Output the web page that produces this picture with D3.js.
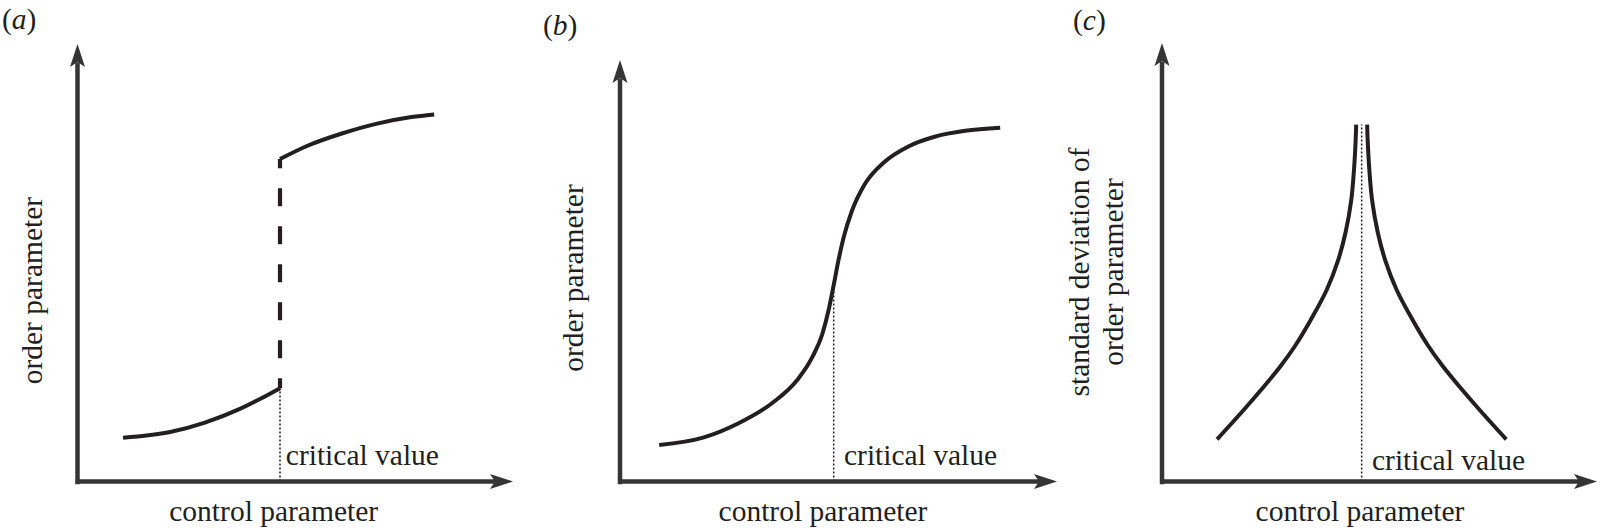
<!DOCTYPE html>
<html>
<head>
<meta charset="utf-8">
<script src="https://cdn.jsdelivr.net/npm/d3@7"></script>
<style>
  html, body { margin: 0; padding: 0; background: #fff; }
  svg { display: block; }
  text { font-family: "Liberation Serif", "Times New Roman", serif; fill: #231f20; }
</style>
</head>
<body>
<svg id="chart" width="1600" height="532"></svg>
<script>
// ---------------- data (all in abstract units 0..100 per axis) ----------------
const panelLetters = ["a", "b", "c"];
const xAxisTitle = "control parameter";
const yAxisTitles = [["order parameter"], ["order parameter"], ["standard deviation of", "order parameter"]];
const criticalLabel = "critical value";

// panel (a): first-order transition
const aLowX  = [10.45, 21.3, 29.25, 37.15, 41.9, 46.5];
const aLowY  = [10.0, 11.3, 13.45, 16.53, 18.86, 21.34];
const aHighX = [46.5, 52.95, 60.9, 68.8, 76.7, 81.9];
const aHighY = [73.7, 76.8, 79.6, 81.8, 83.3, 83.9];
const aCritical = 46.5;

// panel (b): continuous transition (sigmoid)
const bX = [8.97, 19.0, 26.9, 34.7, 40.5, 44.0, 46.3, 47.7, 48.9, 50.0, 51.2, 53.0, 56.0, 60.5, 66.0, 72.0, 79.0, 87.0];
const bY = [8.65, 10.4, 13.7, 18.5, 24.0, 29.5, 35.0, 40.5, 46.6, 52.5, 58.0, 64.0, 70.5, 75.8, 79.5, 81.8, 83.2, 83.9];
const bCritical = 48.9;
const bCriticalY = 46.6;

// panel (c): divergence of standard deviation near the critical value
const cLeftX  = [12.66, 18.77, 23.14, 27.28, 30.73, 34.18, 37.85, 40.5, 42.22, 43.51, 44.18, 44.52, 44.64];
const cLeftY  = [9.62, 16.31, 21.32, 26.34, 31.13, 36.83, 43.67, 50.5, 56.9, 64.2, 71.72, 77.88, 81.39];
const cRightX = [47.16, 47.28, 47.62, 48.29, 49.58, 51.3, 53.95, 57.62, 61.07, 64.52, 68.66, 73.03, 79.14];
const cRightY = [81.39, 77.88, 71.72, 64.2, 56.9, 50.5, 43.67, 36.83, 31.13, 26.34, 21.32, 16.31, 9.62];
const cCritical = 45.9;
const cCriticalY = 81.39;

// ---------------- layout ----------------
const layout = [
  { ox: 77.5,  oy: 481.5, xTip: 513,  yTip: 44, letterX: 2,    letterY: 28.7,
    titleX: 273.7, titleY: 521, critX: 285.8, critY: 464.5, yTitleX: [41.5], yTitleY: 290.6 },
  { ox: 620,   oy: 481.5, xTip: 1057, yTip: 60, letterX: 543,  letterY: 35.4,
    titleX: 823,   titleY: 521, critX: 844,   critY: 464.5, yTitleX: [583], yTitleY: 278 },
  { ox: 1162,  oy: 481.5, xTip: 1597, yTip: 43, letterX: 1073, letterY: 29.7,
    titleX: 1360,  titleY: 521, critX: 1372,  critY: 470,   yTitleX: [1088.7, 1123.4], yTitleY: 272 }
];

const AXIS_COLOR = "#353535";
const CURVE_COLOR = "#231f20";
const FONT = 29.5;
const ARROW_LEN = 23, ARROW_HALF = 7.5, ARROW_NOTCH = 5;

const svg = d3.select("#chart");

function makeScales(L) {
  const x = d3.scaleLinear().domain([0, 100]).range([L.ox, L.xTip]);
  const y = d3.scaleLinear().domain([0, 100]).range([L.oy, L.yTip]);
  return { x, y };
}

function drawAxes(g, L) {
  const xLine = d3.scaleLinear().domain([0, 1]).range([L.ox - 2.25, L.xTip - (ARROW_LEN - ARROW_NOTCH)]);
  const yLine = d3.scaleLinear().domain([0, 1]).range([L.oy + 2.25, L.yTip + (ARROW_LEN - ARROW_NOTCH)]);
  const xa = g.append("g").attr("transform", `translate(0,${L.oy - 0.5})`)
    .call(d3.axisBottom(xLine).tickValues([]).tickSizeOuter(0));
  const ya = g.append("g").attr("transform", `translate(${L.ox - 0.5},0)`)
    .call(d3.axisLeft(yLine).tickValues([]).tickSizeOuter(0));
  [xa, ya].forEach(a => a.select(".domain")
    .attr("stroke", AXIS_COLOR).attr("stroke-width", 4.5).attr("fill", "none"));

  const xt = L.xTip, yt = L.yTip;
  g.append("path")
    .attr("d", `M${xt},${L.oy} L${xt - ARROW_LEN},${L.oy - ARROW_HALF} L${xt - ARROW_LEN + ARROW_NOTCH},${L.oy} L${xt - ARROW_LEN},${L.oy + ARROW_HALF} Z`)
    .attr("fill", AXIS_COLOR);
  g.append("path")
    .attr("d", `M${L.ox},${yt} L${L.ox - ARROW_HALF},${yt + ARROW_LEN} L${L.ox},${yt + ARROW_LEN - ARROW_NOTCH} L${L.ox + ARROW_HALF},${yt + ARROW_LEN} Z`)
    .attr("fill", AXIS_COLOR);
}

function drawTexts(g, L, i) {
  const t = g.append("text").attr("x", L.letterX).attr("y", L.letterY).attr("font-size", FONT);
  t.append("tspan").text("(");
  t.append("tspan").attr("font-style", "italic").text(panelLetters[i]);
  t.append("tspan").text(")");

  g.append("text").attr("x", L.titleX).attr("y", L.titleY)
    .attr("text-anchor", "middle").attr("font-size", FONT).text(xAxisTitle);

  g.append("text").attr("x", L.critX).attr("y", L.critY)
    .attr("font-size", FONT).text(criticalLabel);

  yAxisTitles[i].forEach((s, k) => {
    g.append("text")
      .attr("transform", `translate(${L.yTitleX[k]},${L.yTitleY}) rotate(-90)`)
      .attr("text-anchor", "middle").attr("font-size", FONT).text(s);
  });
}

function curvePath(xs, ys, sc, curve) {
  const pts = xs.map((v, i) => [v, ys[i]]);
  return d3.line().x(d => sc.x(d[0])).y(d => sc.y(d[1])).curve(curve || d3.curveMonotoneX)(pts);
}

function dotted(g, sc, xv, y0, y1) {
  g.append("line")
    .attr("x1", sc.x(xv)).attr("x2", sc.x(xv))
    .attr("y1", sc.y(y0)).attr("y2", sc.y(y1))
    .attr("stroke", CURVE_COLOR).attr("stroke-width", 1.5).attr("stroke-dasharray", "2,2");
}

function solid(g, d) {
  g.append("path").attr("d", d).attr("fill", "none")
    .attr("stroke", CURVE_COLOR).attr("stroke-width", 4).attr("stroke-linejoin", "miter");
}

layout.forEach((L, i) => {
  const g = svg.append("g");
  const sc = makeScales(L);
  drawTexts(g, L, i);

  if (i === 0) {
    dotted(g, sc, aCritical, 0, aLowY[aLowY.length - 1]);
    solid(g, curvePath(aLowX, aLowY, sc));
    solid(g, curvePath(aHighX, aHighY, sc));
    g.append("line")
      .attr("x1", sc.x(aCritical)).attr("x2", sc.x(aCritical))
      .attr("y1", sc.y(aLowY[aLowY.length - 1])).attr("y2", sc.y(aHighY[0]))
      .attr("stroke", CURVE_COLOR).attr("stroke-width", 4.2)
      .attr("stroke-dasharray", "18,20").attr("stroke-dashoffset", 8);
  } else if (i === 1) {
    dotted(g, sc, bCritical, 0, bCriticalY);
    solid(g, curvePath(bX, bY, sc));
  } else {
    dotted(g, sc, cCritical, 0, cCriticalY);
    const cr = d3.curveCatmullRom.alpha(0.5);
    solid(g, curvePath(cLeftX, cLeftY, sc, cr));
    solid(g, curvePath(cRightX, cRightY, sc, cr));
  }
  drawAxes(g, L);
});
</script>
</body>
</html>
